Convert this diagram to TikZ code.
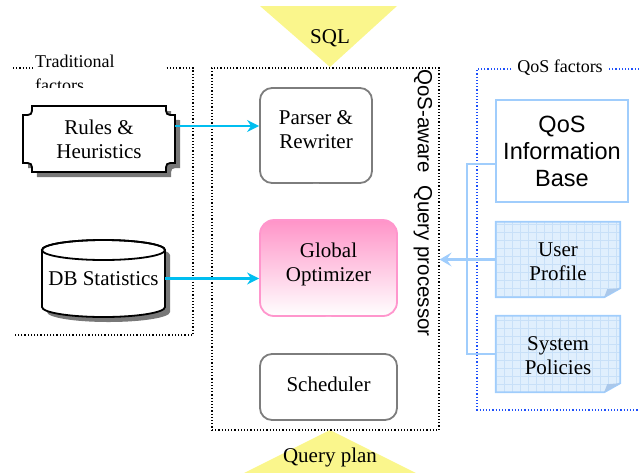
\documentclass[tikz,border=0pt]{standalone}
\usepackage{fontspec}
\setmainfont{Liberation Serif}
\setsansfont{Liberation Sans}
\usetikzlibrary{arrows.meta,calc,backgrounds}
\definecolor{tri}{RGB}{250,246,140}
\definecolor{cy}{RGB}{0,190,240}
\definecolor{lb}{RGB}{160,205,252}
\definecolor{lbfill}{RGB}{224,239,253}
\definecolor{lbgrid}{RGB}{200,224,248}
\definecolor{foldc}{RGB}{170,200,235}
\definecolor{pk}{RGB}{255,148,200}
\definecolor{pkb}{RGB}{255,150,205}
\definecolor{dotblue}{RGB}{30,80,250}
\definecolor{shd}{RGB}{120,120,120}
\definecolor{bord}{RGB}{125,125,125}
\newcommand\docshape[1]{%
  \begin{scope}
    \clip (#1.north west) -- (#1.north east) -- ([yshift=9pt]#1.south east) -- ([xshift=-16pt]#1.south east) -- (#1.south west) -- cycle;
    \fill[lbfill] (#1.north west) rectangle (#1.south east);
    \draw[lbgrid, line width=0.4pt, step=8pt] (#1.north west) grid (#1.south east);
  \end{scope}
  \draw[lb, line width=1.8pt, line join=miter] (#1.north west) -- (#1.north east) -- ([yshift=9pt]#1.south east) -- ([xshift=-16pt]#1.south east) -- (#1.south west) -- cycle;
  \fill[foldc] ([yshift=9pt]#1.south east) -- ([xshift=-16pt]#1.south east) -- ([xshift=-13pt,yshift=8pt]#1.south east) -- cycle;
}
\begin{document}
\begin{tikzpicture}[x=1pt,y=-1pt,
  every node/.style={font=\fontsize{21}{24}\selectfont, align=center, inner sep=0pt},
  procbox/.style={draw=bord, line width=1.8pt, rounded corners=12pt},
  cyarrow/.style={cy, line width=2.2pt, -{Stealth[length=12pt,width=12pt,inset=4pt]}},
  lbline/.style={lb, line width=2.2pt},
  dotbox/.style={dotted, line width=1.2pt},
  hollow/.style={lb, line width=1.4pt, fill=white, line join=miter}]
\useasboundingbox (0,0) rectangle (639,472);

% triangles
\fill[tri] (260,6) -- (397,6) -- (330,67) -- cycle;
\fill[tri] (330,430) -- (240,475) -- (420,475) -- cycle;
\node (sql) at (330,38) {SQL};
\node (qplan) at (330,457) {Query plan};

% central box
\node[draw, dotbox, minimum width=227, minimum height=362] (qp) at (325.5,249) {};
\node[font=\sffamily\fontsize{20.5}{24}\selectfont, rotate=-90] (qpl) at (423,203) {QoS-aware\hspace{12pt}Query processor};

\node[procbox, minimum width=112, minimum height=95, text depth=12pt] (parser) at (316,135.5) {Parser \&\\Rewriter};
\node[draw=pkb, line width=1.8pt, rounded corners=14pt, top color=pk, bottom color=white, minimum width=137, minimum height=96, text depth=12.5pt] (opt) at (328.5,268) {Global\\Optimizer};
\node[procbox, minimum width=137, minimum height=66, text depth=6pt] (sched) at (328.5,387) {Scheduler};

% hollow arrows
\path let \p1=(parser.south), \p2=(opt.north) in
  [hollow] (\x1-2.8pt,\y1) -- (\x1-2.8pt,\y2+8pt) -- (\x1-5.8pt,\y2+8pt) -- (\x1,\y2) -- (\x1+5.8pt,\y2+8pt) -- (\x1+2.8pt,\y2+8pt) -- (\x1+2.8pt,\y1);
\path let \p1=(opt.south), \p2=(sched.north) in
  [hollow] (\x1-2.8pt,\y1) -- (\x1-2.8pt,\y2+8pt) -- (\x1-5.8pt,\y2+8pt) -- (\x1,\y2) -- (\x1+5.8pt,\y2+8pt) -- (\x1+2.8pt,\y2+8pt) -- (\x1+2.8pt,\y1);

% left box
\draw[dotbox] (13,68) -- (193,68) -- (193,335) -- (13,335);
\begin{scope}
  \clip (30,40) rectangle (168,87);
  \node[fill=white, font=\fontsize{18}{24}\selectfont, align=left, anchor=north west, text width=131pt] (tf) at (35,55) {Traditional\\factors};
\end{scope}

% rules & heuristics
\fill[shd] [shift={(5,5)}] (32,106) -- (166,106) .. controls (166,115) .. (175,115) -- (175,163) .. controls (166,163) .. (166,172) -- (32,172) .. controls (32,163) .. (23,163) -- (23,115) .. controls (32,115) .. (32,106) -- cycle;
\draw[fill=white, line width=1.8pt] (32,106) -- (166,106) .. controls (166,115) .. (175,115) -- (175,163) .. controls (166,163) .. (166,172) -- (32,172) .. controls (32,163) .. (23,163) -- (23,115) .. controls (32,115) .. (32,106) -- cycle;
\node[minimum width=152, minimum height=66] (rules) at (99,139) {Rules \&\\Heuristics};

% DB statistics cylinder
\fill[shd] [shift={(5,5)}] (42,250) -- (42,307) arc[start angle=180,end angle=360,x radius=61.5pt,y radius=10pt] -- (165,250) arc[start angle=0,end angle=180,x radius=61.5pt,y radius=10pt] -- cycle;
\draw[fill=white, line width=1.8pt] (42,250) -- (42,307) arc[start angle=180,end angle=360,x radius=61.5pt,y radius=10pt] -- (165,250) arc[start angle=0,end angle=180,x radius=61.5pt,y radius=10pt] -- cycle;
\draw[line width=1.8pt] (103.5,250) ellipse[x radius=61.5pt,y radius=10pt];
\node[minimum width=123, minimum height=77] (db) at (103.5,278.5) {DB Statistics};

\draw[cyarrow] ([yshift=13pt]rules.east) -- ([yshift=13pt]rules.east -| parser.west);
\draw[cyarrow] (db.east) -- (db.east -| opt.west);

% right box
\draw[dotbox, dotblue] (639,69) -- (477,69) -- (477,410) -- (639,410);
\node[fill=white, font=\fontsize{18}{21}\selectfont, minimum width=96, minimum height=16] (qf) at (560,68) {QoS factors};

\node[draw=lb, line width=2pt, fill=white, minimum width=132, minimum height=102, font=\sffamily\fontsize{23.5}{27}\selectfont] (qos) at (562,151) {QoS\\Information\\Base};
\node[minimum width=124, minimum height=75] (up) at (558,259.5) {};
\node[minimum width=124, minimum height=76] (sp) at (558,354) {};
\docshape{up}
\docshape{sp}
\node (uptext) at (558,262) {User\\Profile};
\node (sptext) at (558,356) {System\\Policies};

\draw[lbline] ([yshift=-13pt]qos.west) -- (467,164) |- (sp.west);
\draw[lbline, -{Stealth[length=12pt,width=14pt,inset=5pt]}] (up.west) -- (up.west -| qp.east);
\end{tikzpicture}
\end{document}
